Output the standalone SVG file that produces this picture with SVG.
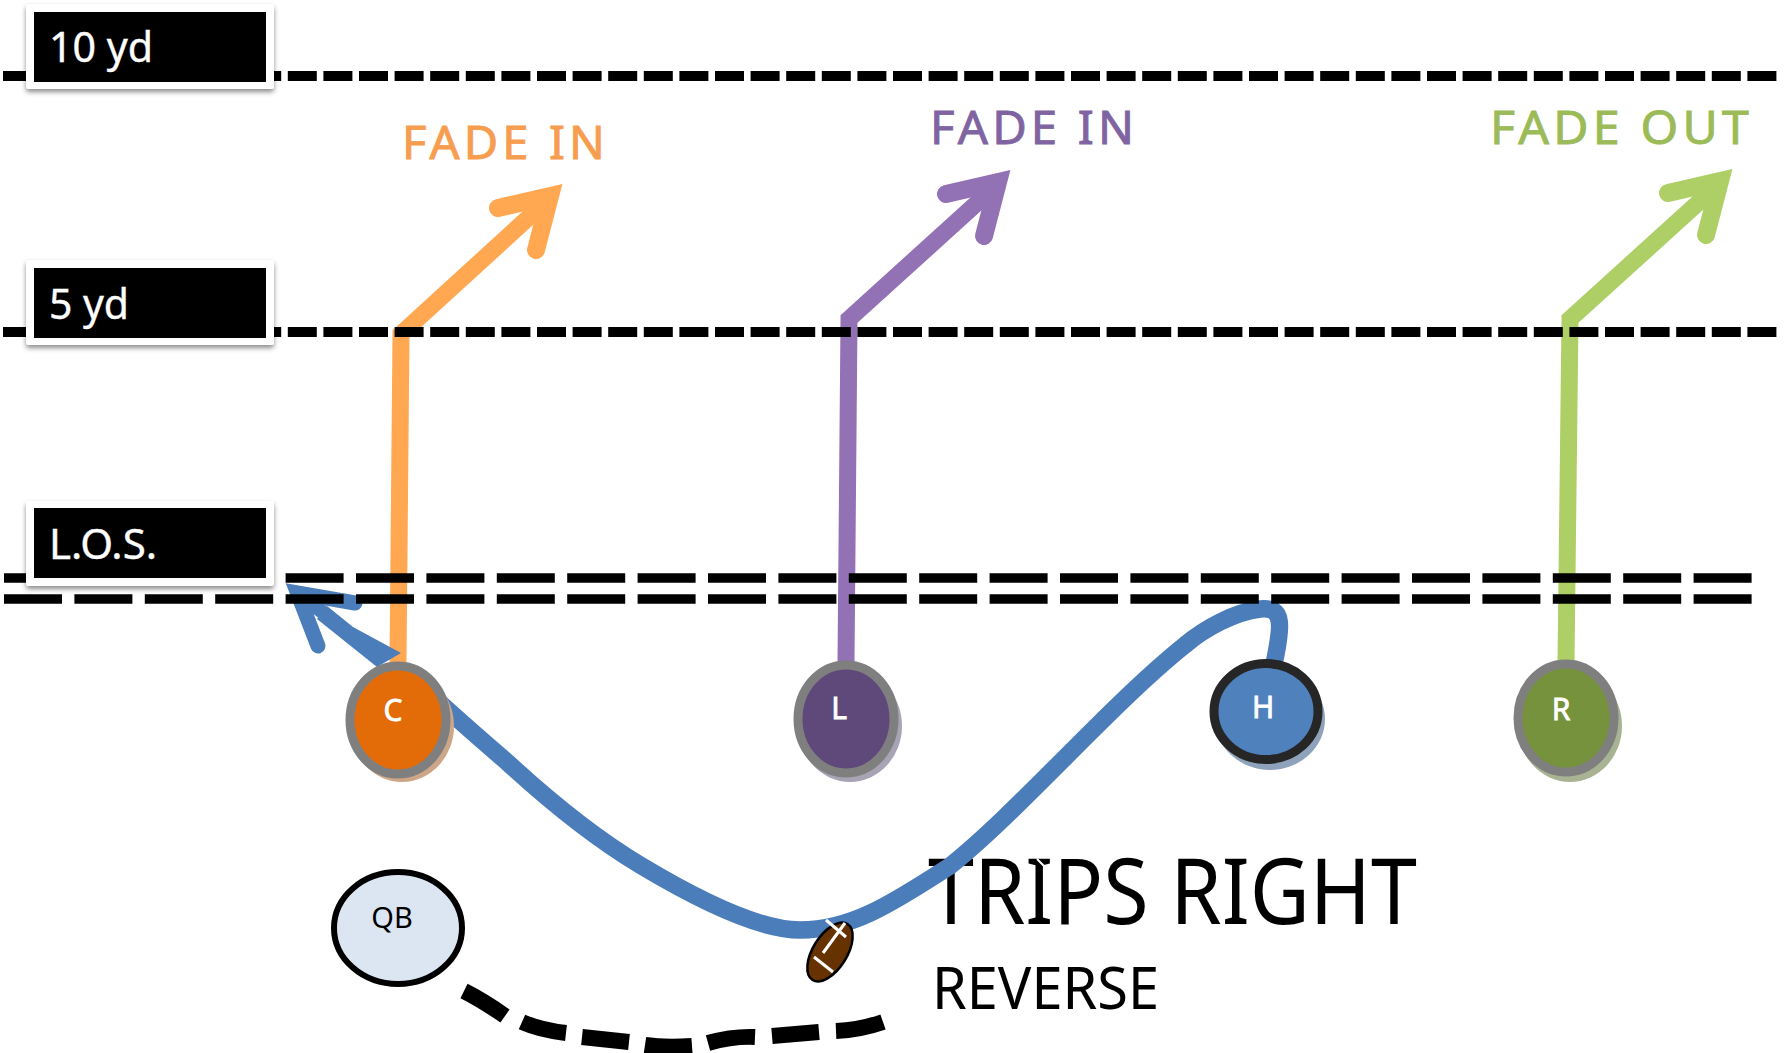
<svg xmlns="http://www.w3.org/2000/svg" width="1787" height="1053" viewBox="0 0 1787 1053">
<style>
text{font-family:"Noto Sans","Open Sans","Liberation Sans",sans-serif}
.yard{fill:none;stroke:#000;stroke-width:10;stroke-dasharray:29 6.6}
.los{fill:none;stroke:#000;stroke-width:9.500;stroke-dasharray:58 12.4}
.route{fill:none;stroke-width:17;stroke-linejoin:miter}
.head{fill:none;stroke-width:18;stroke-linecap:round;stroke-linejoin:miter}
.plate{fill:#fff}
.lab{fill:#fff;font-size:42px;stroke:#fff;stroke-width:.4}
.fade{font-size:46px;stroke-width:.9}
.pl{fill:#fff;font-size:30px;text-anchor:middle;stroke:#fff;stroke-width:.8}
.blue{fill:none;stroke:#4B7DBB}
.lace{stroke:#fff;stroke-width:3;fill:none}
</style>
<defs>
<filter id="sh" x="-10%" y="-20%" width="120%" height="140%"><feDropShadow dx="0" dy="3" stdDeviation="2.5" flood-color="#000" flood-opacity="0.45"/></filter>
</defs>
<rect width="1787" height="1053" fill="#fff"/>
<g id="title">
<text x="928" y="924" font-size="91" textLength="489" lengthAdjust="spacingAndGlyphs">TRIPS RIGHT</text>
<text x="932" y="1009" font-size="59" textLength="227" lengthAdjust="spacingAndGlyphs">REVERSE</text>
<line x1="1037" y1="859" x2="1046" y2="868" stroke="#fff" stroke-width="2"/>
</g>
<g id="connectors">
<g id="orange-route" stroke="#FFA751">
<polyline class="route" points="398,662 401,334 550,198"/>
<polyline class="head" points="498,208 550,196 536,250"/>
</g>
<g id="purple-route" stroke="#9271B4">
<polyline class="route" points="846,662 849,319 998,184"/>
<polyline class="head" points="946,194 998,182 984,236"/>
</g>
<g id="green-route" stroke="#AECE66">
<polyline class="route" points="1566,662 1570,319 1720,183"/>
<polyline class="head" points="1668,193 1720,181 1706,235"/>
</g>
<g id="blue-route">
<path class="blue" stroke-width="17.500" d="M1274,664 C1278,645 1281,628 1279,620 C1277,610 1270,608 1260,609 C1235,612 1205,628 1185,645 C1110,705 1020,810 950,866 C890,905 850,930 800,930 C760,930 700,901 640,865 C595,838 545,797 507,762 C485,743 470,730 450,712 L410,676"/>
<polygon points="327,606 353,627 401,653 377,667 317,619" fill="#4B7DBB"/>
<line class="blue" stroke-width="14" x1="298" y1="593" x2="330" y2="618"/>
<polyline class="blue" stroke-width="15" stroke-linecap="round" points="355,603 297.500,593 318,646"/>
</g>
<g id="qb-path">
<path fill="none" stroke="#000" stroke-width="16" d="M464,991 Q482,1000 505,1016 M522,1022 Q540,1030 566,1033 M582,1037 L629,1042 M645,1045 Q665,1048 692,1046 M708,1043 Q733,1036 755,1037 M772,1036 L819,1032 M836,1031 Q860,1030 883,1022"/>
</g>
</g>
<g id="lines">
<line class="yard" x1="3" y1="76" x2="1777" y2="76"/>
<line class="yard" x1="3" y1="332" x2="1777" y2="332"/>
<line class="los" x1="4" y1="578" x2="1752" y2="578"/>
<line class="los" x1="4" y1="599" x2="1752" y2="599"/>
</g>
<g id="label-10yd">
<rect class="plate" x="26" y="4" width="248" height="85" rx="3" filter="url(#sh)"/>
<rect x="34" y="12" width="232" height="70"/>
<text class="lab" x="49" y="62" textLength="104" lengthAdjust="spacingAndGlyphs">10 yd</text>
</g>
<g id="label-5yd">
<rect class="plate" x="26" y="260" width="248" height="85" rx="3" filter="url(#sh)"/>
<rect x="34" y="268" width="232" height="70"/>
<text class="lab" x="49" y="319" textLength="80" lengthAdjust="spacingAndGlyphs">5 yd</text>
</g>
<g id="label-los">
<rect class="plate" x="26" y="501" width="248" height="85" rx="3" filter="url(#sh)"/>
<rect x="34" y="508" width="232" height="70"/>
<text class="lab" x="49" y="559" textLength="108" lengthAdjust="spacingAndGlyphs">L.O.S.</text>
</g>
<g id="route-labels">
<text class="fade" x="402" y="159" fill="#F79D4F" stroke="#F79D4F" textLength="207" lengthAdjust="spacingAndGlyphs" letter-spacing="4">FADE IN</text>
<text class="fade" x="930" y="144" fill="#8064A2" stroke="#8064A2" textLength="208" lengthAdjust="spacingAndGlyphs" letter-spacing="4">FADE IN</text>
<text class="fade" x="1490" y="144" fill="#9BBB59" stroke="#9BBB59" textLength="263" lengthAdjust="spacingAndGlyphs" letter-spacing="4">FADE OUT</text>
</g>
<g id="node-c">
<ellipse cx="402" cy="726" rx="52" ry="56" fill="#CDA688"/>
<ellipse cx="398" cy="720" rx="48" ry="54" fill="#E36C09" stroke="#7F7F7F" stroke-width="9"/>
<text class="pl" x="393" y="721">C</text>
</g>
<g id="node-l">
<ellipse cx="850" cy="726" rx="52" ry="56" fill="#A8A4B5"/>
<ellipse cx="846" cy="719" rx="48" ry="54" fill="#5F497A" stroke="#7F7F7F" stroke-width="9"/>
<text class="pl" x="839" y="719">L</text>
</g>
<g id="node-h">
<ellipse cx="1270" cy="719" rx="55" ry="51" fill="#8FA2BB"/>
<ellipse cx="1266" cy="711.500" rx="52" ry="48" fill="#4F81BD" stroke="#262626" stroke-width="9"/>
<text class="pl" x="1263" y="718">H</text>
</g>
<g id="node-r">
<ellipse cx="1570" cy="726" rx="52" ry="56" fill="#A8B394"/>
<ellipse cx="1566" cy="718" rx="48" ry="54" fill="#76923C" stroke="#7F7F7F" stroke-width="9"/>
<text class="pl" x="1561" y="720">R</text>
</g>
<g id="node-qb">
<ellipse cx="398" cy="928" rx="64" ry="56" fill="#DCE6F2" stroke="#000" stroke-width="6"/>
<text x="392" y="928" font-size="29" text-anchor="middle" fill="#000">QB</text>
</g>
<g id="football">
<ellipse cx="830" cy="952" rx="17" ry="33" transform="rotate(32 830 952)" fill="#663300" stroke="#000" stroke-width="2.500"/>
<line class="lace" x1="823" y1="953" x2="845" y2="923"/>
<line class="lace" x1="826" y1="920" x2="846" y2="937"/>
<line class="lace" x1="814" y1="957" x2="833" y2="972"/>
</g>
</svg>
